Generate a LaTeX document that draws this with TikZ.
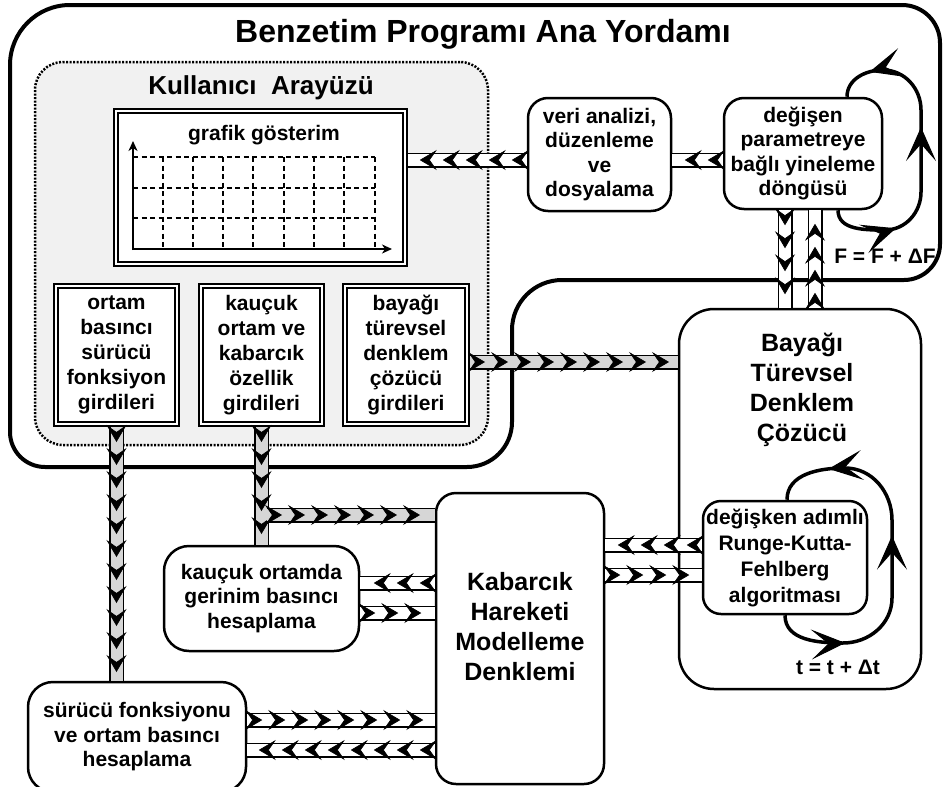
\documentclass[tikz,border=0pt]{standalone}
\usepackage{fontspec}
\setmainfont{Liberation Sans}
\usetikzlibrary{arrows.meta,decorations.markings,calc}
\definecolor{uigray}{RGB}{241,241,241}
\definecolor{stripgray}{RGB}{214,214,214}
\newcommand\mylooptip{\arrow[line width=1pt]{Stealth[length=34pt,width=30pt,inset=17pt]}}
\begin{document}
\begin{tikzpicture}[x=1pt,y=-1pt,
 txt/.style={font=\bfseries\fontsize{21}{25}\selectfont,align=center,inner sep=0pt},
 bigtxt/.style={font=\bfseries\fontsize{25}{30}\selectfont,align=center,inner sep=0pt},
 rbox/.style={draw,line width=2.5pt,rounded corners=#1,fill=white,inner sep=0pt,align=center,font=\bfseries\fontsize{21}{24.5}\selectfont},
 dbox/.style={draw,line width=1.8pt,double=white,double distance=2.2pt,fill=white,inner sep=0pt,outer sep=3pt,align=center,font=\bfseries\fontsize{21}{25}\selectfont},
 uibox/.style={draw,line width=2.5pt,dash pattern=on 2pt off 1.5pt,fill=uigray,rounded corners=28pt,inner sep=0pt},
 flowstrip/.style={draw=black,line width=15pt,postaction={draw=#1,line width=12pt},postaction={decorate},
   decoration={markings,mark=between positions 15pt and -1pt step 23pt with {\arrow[black,line width=0.6pt]{Stealth[length=17pt,width=20pt,inset=7pt]}}}},
 loopline/.style={draw,line width=3.5pt,postaction={decorate}},
 griddash/.style={line width=1.6pt,dash pattern=on 5pt off 3.5pt},
 axisline/.style={line width=2pt,-{Stealth[length=10pt,width=9pt,inset=3pt]}}
]
\useasboundingbox (0,0) rectangle (945,787);
\fill[white] (0,0) rectangle (945,787);

% outer main routine boundary
\draw[line width=4pt] (10,65) arc[start angle=180,end angle=270,radius=60]
  -- (902,5) arc[start angle=270,end angle=360,radius=38]
  -- (940,244) arc[start angle=0,end angle=90,radius=36]
  -- (562,280) arc[start angle=270,end angle=180,radius=50]
  -- (512,422) arc[start angle=0,end angle=90,radius=45]
  -- (45,467) arc[start angle=90,end angle=180,radius=35]
  -- cycle;
\node[font=\bfseries\fontsize{32}{36}\selectfont,inner sep=0pt] (title) at (483,34) {Benzetim Programı Ana Yordamı};

% user interface
\node[uibox,minimum width=453,minimum height=383] (ui) at (261.5,253.5) {};
\node[font=\bfseries\fontsize{26}{30}\selectfont,inner sep=0pt] (uititle) at (261,88) {Kullanıcı~~Arayüzü};

\node[dbox,minimum width=289,minimum height=153] (grafik) at (260.5,187.5) {};
\node[txt] (graftitle) at (264,135) {grafik gösterim};
\foreach \yy in {157,188,218} \draw[griddash] (133,\yy) -- (375,\yy);
\foreach \xx in {163,193,223,253,284,314,344,375} \draw[griddash] (\xx,157) -- (\xx,249);
\draw[axisline] (133,250) -- (133,141);
\draw[axisline] (132,249) -- (392,249);

\node[dbox,minimum width=121,minimum height=138] (in1) at (116.5,355) {ortam\\basıncı\\sürücü\\fonksiyon\\girdileri};
\node[dbox,minimum width=121,minimum height=138] (in2) at (261.5,355) {kauçuk\\ortam ve\\kabarcık\\özellik\\girdileri};
\node[dbox,minimum width=122,minimum height=138] (in3) at (406,355) {bayağı\\türevsel\\denklem\\çözücü\\girdileri};

% right top boxes
\node[rbox=20pt,minimum width=143,minimum height=113] (veri) at (599.5,154.5) {veri analizi,\\düzenleme\\ve\\dosyalama};
\node[rbox=20pt,minimum width=158,minimum height=111] (degisen) at (803,153.5) {değişen\\parametreye\\bağlı yineleme\\döngüsü};
\node[txt] (flab) at (885,256) {F = F + ΔF};

% ODE solver
\node[rbox=35pt,minimum width=242,minimum height=380] (odecoz) at (800,499) {};
\node[bigtxt] (odetitle) at (802,390) {Bayağı\\Türevsel\\Denklem\\Çözücü};
\node[rbox=18pt,minimum width=164,minimum height=113,font=\bfseries\fontsize{21}{26}\selectfont] (rkf) at (785,557.5) {değişken adımlı\\Runge-Kutta-\\Fehlberg\\algoritması};
\node[txt] (tlab) at (838,667) {t = t + Δt};

% bubble model
\node[rbox=20pt,minimum width=168,minimum height=291] (kab) at (520,638.5) {};
\node[bigtxt] (kabtitle) at (520,627) {Kabarcık\\Hareketi\\Modelleme\\Denklemi};
\node[rbox=25pt,minimum width=195,minimum height=105] (kauc) at (261.5,598.5) {kauçuk ortamda\\gerinim basıncı\\hesaplama};
\node[rbox=25pt,minimum width=218,minimum height=110] (surucu) at (137,737) {sürücü fonksiyonu\\ve ortam basıncı\\hesaplama};

% flow strips
\draw[flowstrip=white] (veri.west |- 0,160) -- (grafik.east |- 0,160);
\draw[flowstrip=white] (degisen.west |- 0,160) -- (veri.east |- 0,160);
\draw[flowstrip=white] (degisen.south -| 785,0) -- (odecoz.north -| 785,0);
\draw[flowstrip=white] (odecoz.north -| 815,0) -- (degisen.south -| 815,0);
\draw[flowstrip=stripgray] (in3.east |- 0,362) -- (odecoz.west |- 0,362);
\draw[flowstrip=stripgray] (in1.south) -- (in1.south |- surucu.north);
\draw[flowstrip=stripgray] (in2.south) -- (in2.south |- kauc.north);
\coordinate (branch) at (267,515);
\draw[flowstrip=stripgray] (branch) -- (kab.west |- branch);
\draw[flowstrip=white] (rkf.west |- 0,545) -- (kab.east |- 0,545);
\draw[flowstrip=white] (kab.east |- 0,575) -- (rkf.west |- 0,575);
\draw[flowstrip=white] (kab.west |- 0,583) -- (kauc.east |- 0,583);
\draw[flowstrip=white] (kauc.east |- 0,613) -- (kab.west |- 0,613);
\draw[flowstrip=white] (surucu.east |- 0,720) -- (kab.west |- 0,720);
\draw[flowstrip=white] (kab.west |- 0,750) -- (surucu.east |- 0,750);

% iteration loops
\draw[loopline,decoration={markings,
   mark=at position 68pt with {\mylooptip},
   mark=at position 180pt with {\mylooptip},
   mark=at position 272pt with {\mylooptip}}]
  (degisen.south -| 838,0) to[out=-90,in=180] (885,230) to[out=0,in=-90] (921,192)
  -- (921,110) to[out=90,in=0] (883,70) to[out=180,in=90] (degisen.north -| 847,0);
\draw[loopline,decoration={markings,
   mark=at position 74pt with {\mylooptip},
   mark=at position 208pt with {\mylooptip},
   mark=at position 318pt with {\mylooptip}}]
  (rkf.south -| 785,0) to[out=-90,in=180] (843,643) to[out=0,in=-90] (892,598)
  -- (892,520) to[out=90,in=0] (845,468) to[out=180,in=90] (rkf.north -| 787,0);
\end{tikzpicture}
\end{document}
